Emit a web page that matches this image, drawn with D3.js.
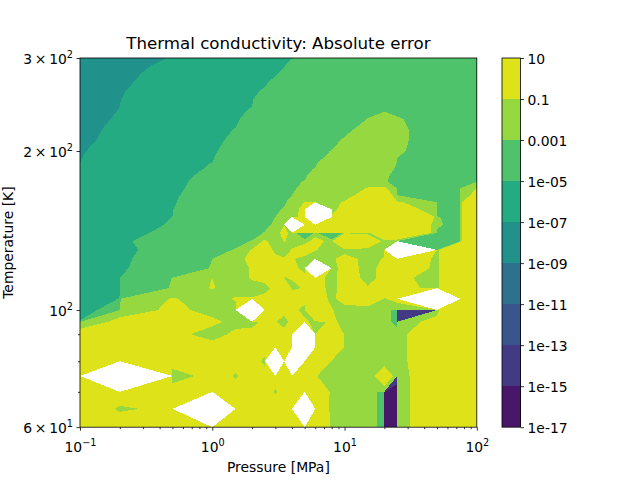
<!DOCTYPE html>
<html><head><meta charset="utf-8">
<script src="https://cdn.jsdelivr.net/npm/d3@7"></script>
<style>
html,body{margin:0;padding:0;background:#fff}
text{font-family:"DejaVu Sans",sans-serif;fill:#000}
</style></head><body>
<svg id="c" width="640" height="480" xmlns="http://www.w3.org/2000/svg"></svg>
<script>
const pressures=[0.1,0.2,0.5,1,1.5,2,2.5,3,3.5,4,5,6,8,10,15,20,25,50,75,100];
const temperatures=[300,290,280,270,260,250,240,230,220,210,200,195,190,185,180,175,170,165,160,155,150,145,140,135,130,125,120,115,110,105,100,95,90,85,80,75,70,65,60];
// log10 of the absolute error at each (temperature row, pressure column)
const logError=[
[-8,-8,-6.94,-6.5,-6.5,-6.5,-6.5,-6.5,-6.5,-6.5,-4.7,-4,-4,-4,-4,-4,-4,-4,-4,-4],
[-8,-8,-6.7,-6.5,-6.5,-6.5,-6.5,-6.5,-6.5,-4,-4,-4,-4,-4,-4,-4,-4,-4,-4,-4],
[-8,-8,-6.5,-6.5,-6.5,-6.5,-6.5,-6.5,-4.3,-4,-4,-4,-4,-4,-4,-4,-4,-4,-4,-4],
[-8,-8,-6.3,-6,-6,-6,-6,-4.5,-4,-4,-4,-4,-4,-4,-4,-4,-4,-4,-4,-4],
[-8,-8,-5.9,-6,-6,-6,-4.76,-4,-4,-4,-4,-4,-4,-4,-4,-4,-4,-4,-4,-4],
[-8,-7.05,-6,-6,-6,-6,-3.9,-4,-4,-4,-4,-4,-4,-4,-4,-4,-4,-4,-4,-4],
[-8,-6.98,-6,-6,-6,-4.87,-4,-4,-4,-4,-4,-4,-4,-4,-3.3,-3.1,-3.2,-4,-4,-4],
[-8,-6.86,-6,-6,-6,-4.4,-4,-4,-4,-4,-4,-4,-4,-4,-2.98,-2.8,-2.95,-4,-4,-4],
[-8,-6.7,-6,-6,-4.95,-4.5,-4,-4,-4,-4,-4,-4,-4,-4,-2.58,-2.5,-2.9,-4,-4,-4],
[-8,-6.55,-6,-6,-4.7,-4,-4,-4,-4,-4,-4,-4,-4,-2.86,-2.4,-2.4,-2.9,-4,-4,-4],
[-7.5,-6.2,-6,-5.8,-4.35,-4,-4,-4,-4,-4,-4,-4,-2.95,-2.4,-2.4,-2.4,-2.93,-4,-4,-4],
[-7.3,-5.95,-5.7,-5.5,-4.1,-4,-4,-4,-4,-4,-4,-4,-2.74,-2.3,-2.3,-2.4,-2.99,-4,-4,-4],
[-7,-5.8,-5.6,-4.98,-4,-4,-4,-4,-4,-4,-4,-4,-2.2,-2.2,-2.2,-2.5,-3.05,-4,-4,-4],
[-6.5,-5.8,-5.5,-4.89,-4,-4,-4,-4,-4,-4,-4,-2.9,-2.2,-2.2,-2.2,-2.5,-3.5,-4,-4,-4],
[-6.5,-5.8,-5.5,-4.75,-4,-4,-4,-4,-4,-4,-4,-2.4,-2.2,-2.2,-2.2,-2.8,-4,-4,-4,-4],
[-6.5,-5.8,-5.5,-4.6,-4,-4,-4,-4,-4,-4,-2.9,-2.4,-2.2,-2.2,-2.2,-2.9,-4,-4,-4,-4],
[-6.5,-5.8,-5.5,-4.5,-4,-4,-4,-4,-4,-4,-2.55,-2.3,-2.2,-2.2,-0.95,-0.9,-4,-4,-4,-0.98],
[-6.5,-5.8,-5.3,-4.4,-4,-4,-4,-4,-4,-3,-2.6,-2.3,-2.2,-2.2,-0.6,-0.6,-3.5,-4,-4,-0.75],
[-6.5,-5.8,-5.2,-4.26,-4,-4,-4,-4,-4,-2.4,-0.98,-1.5,-1.5,-0.9,-0.5,-0.5,-0.95,-4,-4,0],
[-6.5,-5.8,-5.1,-3.9,-4,-4,-4,-4,-2.8,-2.5,-0.7,6,-1.5,-0.65,-0.3,-0.3,-0.7,-4,-4,0],
[-6.5,-5.8,-4.99,-4,-4,-4,-4,-3,-2.5,-2.1,-0.7,6,-0.9,0.1,0.3,0.3,0.1,-2.95,-4,0],
[-6.5,-5.8,-4.9,-4,-4,-4,-3.5,-2.8,-1.05,6,0.7,0.7,0.7,0.7,0.7,0.7,-0.3,-2.9,-4,0],
[-6.5,-5.8,-4.7,-4,-4,-4,-2.93,-2.5,-0.7,-2.85,-4,-2.95,-4,-2.95,-2,0,-0.3,-3.1,-4,0],
[-6.5,-5.8,-4.28,-4,-3.6,-2.95,-0.9,-2,-0.95,-1.5,-2.9,-0.7,-2.9,0.3,-0.3,-2.95,-4,-4,-4,0],
[-6.5,-5.8,-4.45,-3.5,-2.94,-0.95,-0.48,-2,-2,-0.95,-0.5,-0.95,-2.7,-2,-2,-2.9,6,-3,0.1,0],
[-6.5,-5.8,-4.27,-3,-2.7,-0.7,-0.7,-0.7,-0.95,-0.9,-2.5,-2.5,-1.2,-0.7,-2.5,-0.9,-0.3,-3,0.1,0],
[-6.5,-5.8,-4.1,-2.95,-2.5,-0.9,-0.7,-0.7,-0.7,-0.7,-2.6,6,-2.5,-0.66,-2,-0.7,-0.4,-2.7,0.1,0],
[-6.3,-5.05,-2.99,-1,-2.7,-0.9,-0.7,-0.7,-1.05,-0.9,-0.7,-0.7,-2,-0.6,-2,-0.7,-0.83,-2.7,0.1,0],
[-6,-5.1,-2.95,-0.95,-2.7,-2,-2,-0.7,0.3,-2,-0.85,-0.7,-1.5,-0.7,-0.9,-0.7,-0.7,-2.7,0.1,0],
[-6,-4.97,-0.95,-2.7,-0.9,-0.95,-0.7,-0.7,-0.7,-0.3,-0.7,-0.7,-1.2,-0.7,-0.5,-1.05,-0.8,6,0.1,0],
[-5.7,-4.6,-0.8,-2.7,-2.7,6,-0.7,-0.7,-0.7,-0.7,-2.5,0.5,-0.95,-2,-2.7,-2.7,-14,-14,0.1,0],
[-4.95,-0.8,-0.7,-0.8,-2,-2.2,-0.7,-0.95,-2.7,-0.7,-0.8,-2.5,-0.8,-2,-2.7,-2.7,-14,-0.7,0.1,0],
[-0.75,-0.7,-0.8,-2.7,-0.78,-0.7,-0.7,-0.7,-0.7,-0.7,6,-1.02,0.3,-2.7,-2.7,-2.7,-2.7,-0.3,0.1,0],
[-0.7,-0.7,-0.7,-0.7,-0.7,-0.7,-0.7,-0.7,-0.7,-0.7,6,-0.7,0.3,-2.7,-2.7,-2.7,-2.7,-0.3,0.1,0],
[-0.7,-0.7,-0.7,-0.7,-0.7,-0.7,-1.3,6,-0.7,6,-0.7,0.2,-2,-2.7,-2.7,-2.7,-2.7,-0.3,0.1,0],
[-0.7,6,-2,-0.7,-1.1,-0.7,-0.7,-0.7,-0.7,-0.7,-0.7,-0.95,-2.7,-2.7,-2.7,-0.55,-14.7,-0.38,0.1,0],
[-0.7,-0.7,-0.7,-0.7,-0.7,-0.7,-0.7,-1.1,-0.7,-0.7,-0.7,-0.18,-2.7,-2.7,-2.7,-16,-16,-0.38,0.1,0],
[-0.7,-1.1,-0.8,6,-0.7,-0.7,-0.7,-0.7,-0.7,-0.7,6,-0.2,-2.7,-2.7,-2.7,-16,-16,-0.38,0.1,0],
[-0.7,-0.7,-0.7,-0.7,-0.7,-0.7,-0.7,-0.7,-0.7,-0.7,-0.7,-0.1,-2.7,-2.7,-2.7,-16,-16,-0.38,0.1,0]
];
const levelExponents=[-17,-15,-13,-11,-9,-7,-5,-3,-1,1];
const bandColors=["#481769","#443a83","#3a548c","#2d718e","#21918c","#25ab82","#4ec36b","#95d840","#dde318","#ffffff"];
const colorbarLabels=["1e-17","1e-15","1e-13","1e-11","1e-09","1e-07","1e-05","0.001","0.1","10"];
const xMajor=[0.1,1,10,100], xMajorExp=["\u22121","0","1","2"];
const xMinor=[0.2,0.3,0.4,0.5,0.6,0.7,0.8,0.9,2,3,4,5,6,7,8,9,20,30,40,50,60,70,80,90];
const yMajor=[60,100,200,300], yMajorMant=["6\u2009\u00d7\u200910","10","2\u2009\u00d7\u200910","3\u2009\u00d7\u200910"], yMajorExp=["1","2","2","2"];
const yMinor=[70,80,90];

const L=80,R=476.8,T=58,B=427.2;
const CL=502,CR=520.5;
const svg=d3.select("#c");
const x=d3.scaleLog().domain([0.1,100]).range([L,R]);
const y=d3.scaleLog().domain([60,300]).range([B,T]);
const nx=pressures.length, ny=temperatures.length;
const pAt=d3.scaleLinear().domain(d3.range(nx)).range(pressures);
const tAt=d3.scaleLinear().domain(d3.range(ny)).range(temperatures);
const cl=(v,n)=>Math.max(0,Math.min(n-1,v));
const path=d3.geoPath(d3.geoTransform({point(a,b){
  this.stream.point(x(pAt(cl(a-0.5,nx))),y(tAt(cl(b-0.5,ny))));
}}));
const flat=logError.flat().map(e=>Math.pow(10,e));
const contours=d3.contours().size([nx,ny]).thresholds(levelExponents.map(e=>Math.pow(10,e)))(flat);
svg.append("g").selectAll("path").data(contours).join("path")
  .attr("d",path).attr("fill",(d,i)=>bandColors[i]).attr("shape-rendering","crispEdges");

const FS=13.9, SUP=9.7;
function sup(sel,fn,e){ sel.each(function(d,i){
  const t=d3.select(this).text(fn(d,i));
  t.append("tspan").attr("dy",-5.5).attr("font-size",SUP).text(e(d,i));
});}
const ax=svg.append("g").attr("transform",`translate(0,${B})`);
ax.call(d3.axisBottom(x).tickValues(xMinor).tickSize(2).tickFormat(""));
const ax2=svg.append("g").attr("transform",`translate(0,${B})`);
ax2.call(d3.axisBottom(x).tickValues(xMajor).tickSize(3.5).tickPadding(3.5).tickFormat(""));
ax2.selectAll(".tick text").attr("font-size",FS).attr("dy",17.8);
sup(ax2.selectAll(".tick text"),()=>"10",(d,i)=>xMajorExp[i]);
const ay=svg.append("g").attr("transform",`translate(${L},0)`);
ay.call(d3.axisLeft(y).tickValues(yMinor).tickSize(2).tickFormat(""));
const ay2=svg.append("g").attr("transform",`translate(${L},0)`);
ay2.call(d3.axisLeft(y).tickValues(yMajor).tickSize(3.5).tickPadding(3.5).tickFormat(""));
ay2.selectAll(".tick text").attr("font-size",FS).attr("dy","0.36em");
sup(ay2.selectAll(".tick text"),(d,i)=>yMajorMant[i],(d,i)=>yMajorExp[i]);
[ax,ax2,ay,ay2].forEach(g=>{g.select(".domain").remove();g.selectAll("line").attr("stroke","#000").attr("stroke-width",0.8);g.attr("font-family",null);});
svg.append("rect").attr("x",L).attr("y",T).attr("width",R-L).attr("height",B-T)
  .attr("fill","none").attr("stroke","#000").attr("stroke-width",0.8);

svg.append("text").attr("x",(L+R)/2).attr("y",49).attr("text-anchor","middle").attr("font-size",16.67).text("Thermal conductivity: Absolute error");
svg.append("text").attr("x",(L+R)/2).attr("y",472).attr("text-anchor","middle").attr("font-size",FS).text("Pressure [MPa]");
svg.append("text").attr("transform",`translate(13,${(T+B)/2}) rotate(-90)`).attr("text-anchor","middle").attr("font-size",FS).text("Temperature [K]");

// colorbar
const cy=d3.scaleLinear().domain([-17,1]).range([B,T]);
svg.append("g").selectAll("rect").data(levelExponents.slice(0,-1)).join("rect")
  .attr("x",CL).attr("width",CR-CL).attr("y",d=>cy(d+2)).attr("height",d=>cy(d)-cy(d+2))
  .attr("fill",(d,i)=>bandColors[i]).attr("shape-rendering","crispEdges");
const cax=svg.append("g").attr("transform",`translate(${CR},0)`);
cax.call(d3.axisRight(cy).tickValues(levelExponents).tickSize(3.5).tickPadding(3.5).tickFormat((d,i)=>colorbarLabels[i]));
cax.select(".domain").remove();
cax.attr("font-family",null);
cax.selectAll("line").attr("stroke","#000").attr("stroke-width",0.8);
cax.selectAll("text").attr("font-size",FS).attr("dy","0.36em");
svg.append("rect").attr("x",CL).attr("y",T).attr("width",CR-CL).attr("height",B-T)
  .attr("fill","none").attr("stroke","#000").attr("stroke-width",0.8);
</script></body></html>
